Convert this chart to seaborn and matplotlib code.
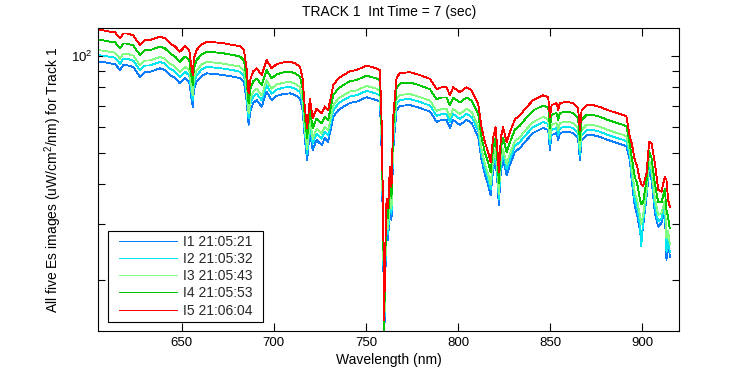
import matplotlib
matplotlib.use("Agg")
import matplotlib.pyplot as plt
import matplotlib.transforms as mtransforms
from matplotlib.patches import Rectangle
from matplotlib.ticker import LogLocator, NullFormatter, FixedLocator
import numpy as np
import pandas as pd
import seaborn as sns

wavelength = [
    605.0, 607.4, 611.0, 613.8, 616.5, 618.3, 620.1, 623.7, 627.3, 630.0,
    632.8, 635.5, 638.2, 640.9, 643.6, 646.3, 649.0, 651.8, 654.1, 655.4,
    656.0, 656.6, 658.1, 660.8, 663.5, 668.0, 672.5, 678.0, 681.6, 683.8,
    685.2, 686.3, 687.4, 688.8, 690.7, 693.4, 696.1, 698.8, 701.5, 705.1,
    708.7, 711.5, 714.2, 715.6, 716.9, 718.1, 719.6, 721.1, 723.2, 726.0,
    727.7, 729.5, 732.3, 735.0, 737.7, 741.3, 745.0, 750.4, 755.8, 757.6,
    758.5, 759.4, 759.9, 760.5, 761.2, 762.1, 763.0, 763.9, 764.8, 765.7,
    766.7, 768.5, 773.9, 779.3, 784.8, 788.4, 791.1, 793.8, 795.6, 797.4,
    801.0, 804.7, 807.4, 811.0, 812.8, 814.6, 816.4, 817.7, 819.1, 820.4,
    821.3, 822.2, 823.3, 824.5, 826.4, 828.2, 830.9, 833.6, 837.2, 840.8,
    846.2, 849.0, 849.9, 850.8, 853.5, 854.4, 855.3, 858.9, 862.5, 865.2,
    866.2, 867.1, 869.8, 873.4, 877.0, 881.5, 886.1, 889.7, 891.5, 893.3,
    894.3, 896.0, 897.3, 898.7, 899.5, 900.5, 902.4, 903.8, 905.1, 906.9,
    908.7, 910.5, 912.3, 913.2, 914.1, 915.0]

i1 = [
    96.0, 95.8, 94.9, 94.4, 90.4, 93.7, 93.7, 92.4, 86.2, 89.2,
    89.3, 90.4, 91.6, 90.4, 87.3, 85.4, 82.2, 85.4, 83.0, 72.9,
    69.5, 78.4, 83.2, 86.6, 88.3, 87.9, 87.3, 86.2, 85.4, 83.0,
    72.9, 61.0, 67.9, 71.4, 72.9, 69.5, 77.4, 72.9, 75.1, 76.1,
    76.5, 75.6, 73.8, 67.9, 54.7, 47.4, 58.8, 50.9, 54.7, 52.8,
    55.5, 54.0, 64.7, 67.9, 69.5, 71.4, 72.1, 74.4, 72.9, 71.9,
    50.9, 24.9, 12.0, 20.0, 28.7, 26.7, 35.6, 30.8, 50.9, 58.8,
    67.9, 69.9, 70.4, 68.9, 67.1, 62.4, 63.2, 63.2, 59.7, 63.2,
    61.0, 63.2, 61.8, 56.0, 47.4, 42.6, 39.6, 36.9, 44.1, 47.4,
    41.1, 34.3, 44.1, 47.4, 42.6, 45.8, 50.2, 51.7, 54.7, 57.6,
    59.7, 58.8, 50.9, 56.7, 57.6, 54.7, 57.6, 58.1, 57.6, 55.5,
    47.4, 54.7, 56.7, 56.7, 56.0, 54.7, 53.6, 52.8, 52.2, 47.4,
    41.1, 33.9, 32.0, 28.7, 26.7, 29.4, 36.5, 44.1, 41.1, 32.4,
    29.4, 30.2, 33.1, 23.1, 26.7, 23.7]

i2 = [
    100.5, 100.3, 99.4, 98.8, 94.6, 98.1, 98.1, 96.7, 90.3, 93.4,
    93.5, 94.6, 95.9, 94.6, 91.4, 89.4, 86.1, 89.4, 86.9, 76.3,
    72.8, 82.1, 87.1, 90.7, 92.5, 92.0, 91.4, 90.3, 89.4, 86.9,
    76.3, 63.9, 71.1, 74.8, 76.3, 72.8, 81.0, 76.3, 78.6, 79.7,
    80.1, 79.2, 77.3, 71.1, 57.3, 49.6, 61.6, 53.3, 57.3, 55.3,
    58.1, 56.5, 67.7, 71.1, 72.8, 74.8, 75.5, 77.9, 76.3, 75.3,
    53.3, 26.1, 12.5, 20.9, 30.0, 27.9, 37.2, 32.2, 53.1, 61.4,
    70.9, 73.0, 73.5, 71.9, 70.1, 65.1, 66.0, 66.0, 62.3, 66.0,
    63.7, 66.0, 64.5, 58.5, 49.5, 44.5, 41.3, 38.5, 46.0, 49.5,
    42.9, 35.8, 46.0, 49.5, 44.5, 47.8, 52.4, 54.0, 57.1, 60.1,
    62.3, 61.4, 53.1, 58.8, 59.7, 56.7, 59.7, 60.2, 59.7, 57.6,
    49.2, 56.7, 58.8, 58.8, 58.1, 56.7, 55.6, 54.8, 54.1, 49.2,
    43.0, 35.5, 33.5, 30.0, 25.5, 30.5, 37.5, 45.8, 42.8, 34.0,
    30.5, 31.2, 34.2, 24.5, 27.5, 24.5]

i3 = [
    104.2, 103.9, 103.0, 102.4, 98.1, 101.7, 101.7, 100.3, 93.5, 96.8,
    96.9, 98.1, 99.4, 98.1, 94.7, 92.7, 89.2, 92.7, 90.1, 79.1,
    75.4, 85.1, 90.3, 94.0, 95.8, 95.4, 94.7, 93.5, 92.7, 90.1,
    79.1, 66.2, 73.7, 77.5, 79.1, 75.4, 84.0, 79.1, 81.5, 82.6,
    83.0, 82.0, 80.1, 73.7, 59.3, 51.4, 63.8, 55.2, 59.3, 57.3,
    60.2, 58.6, 70.2, 73.7, 75.4, 77.5, 78.2, 80.7, 79.1, 78.0,
    55.2, 27.0, 13.0, 21.7, 31.1, 28.9, 38.5, 33.3, 55.1, 63.6,
    73.5, 75.6, 76.2, 74.5, 72.6, 67.5, 68.4, 68.4, 64.6, 68.4,
    66.0, 68.4, 66.9, 60.6, 51.3, 46.1, 42.8, 39.9, 47.7, 51.3,
    44.5, 37.1, 47.7, 51.3, 46.1, 49.6, 54.3, 55.9, 59.2, 62.3,
    64.6, 63.6, 55.1, 61.0, 61.9, 58.8, 61.9, 62.5, 61.9, 59.7,
    51.0, 58.8, 61.0, 61.0, 60.2, 58.8, 57.6, 56.8, 56.1, 51.0,
    45.0, 37.5, 35.5, 32.0, 30.0, 32.0, 38.5, 47.5, 44.5, 36.0,
    32.0, 32.5, 35.5, 27.0, 28.5, 26.0]

i4 = [
    112.1, 111.9, 110.8, 110.3, 105.6, 109.4, 109.4, 107.9, 100.7, 104.2,
    104.3, 105.6, 107.0, 105.6, 102.0, 99.7, 96.0, 99.7, 96.9, 85.1,
    81.2, 91.6, 97.2, 101.1, 103.1, 102.7, 102.0, 100.7, 99.7, 96.9,
    85.1, 71.2, 79.3, 83.4, 85.1, 81.2, 90.4, 85.1, 87.7, 88.9,
    89.4, 88.3, 86.2, 79.3, 63.9, 55.4, 68.7, 59.5, 63.9, 61.7,
    64.8, 63.1, 75.6, 79.3, 81.2, 83.4, 84.2, 86.9, 85.1, 84.0,
    59.5, 29.1, 14.0, 23.4, 33.5, 31.2, 41.8, 36.2, 59.8, 69.1,
    79.8, 82.1, 82.7, 81.0, 78.8, 73.3, 74.3, 74.3, 70.1, 74.3,
    71.7, 74.3, 72.6, 65.8, 55.7, 50.1, 46.5, 43.4, 51.8, 55.7,
    48.3, 40.3, 51.8, 55.7, 50.1, 53.8, 59.0, 60.7, 64.3, 67.7,
    70.1, 69.1, 59.8, 65.5, 66.5, 63.2, 66.5, 67.1, 66.5, 64.1,
    54.7, 63.2, 65.5, 65.5, 64.7, 63.2, 61.9, 61.0, 60.3, 53.0,
    48.5, 42.0, 40.0, 36.0, 34.5, 35.0, 41.0, 50.5, 48.0, 40.0,
    35.0, 35.0, 38.5, 33.0, 31.5, 29.0]

i5 = [
    120.5, 120.2, 119.1, 118.5, 113.5, 117.6, 117.6, 116.0, 108.2, 111.9,
    112.1, 113.5, 115.0, 113.5, 109.6, 107.2, 103.2, 107.2, 104.2, 91.5,
    87.2, 98.4, 104.4, 108.7, 110.8, 110.3, 109.6, 108.2, 107.2, 104.2,
    91.5, 76.6, 85.2, 89.6, 91.5, 87.2, 97.1, 91.5, 94.3, 95.5,
    96.0, 94.9, 92.6, 85.2, 68.6, 59.5, 73.8, 63.9, 68.6, 66.3,
    69.7, 67.8, 81.2, 85.2, 87.2, 89.6, 90.5, 93.4, 91.5, 90.2,
    63.9, 31.2, 15.0, 25.1, 36.0, 33.5, 45.0, 39.0, 64.4, 74.4,
    85.9, 88.4, 89.1, 87.2, 84.9, 78.9, 79.9, 79.9, 75.5, 79.9,
    77.2, 79.9, 78.2, 70.8, 60.0, 53.9, 50.1, 46.7, 55.8, 60.0,
    52.0, 43.4, 55.8, 60.0, 53.9, 57.9, 63.5, 65.4, 69.2, 72.9,
    75.5, 74.4, 64.4, 70.3, 71.4, 67.8, 71.4, 72.0, 71.4, 68.8,
    58.8, 67.8, 70.3, 70.3, 69.4, 67.8, 66.5, 65.5, 64.7, 56.0,
    53.6, 47.4, 45.2, 41.1, 40.0, 39.2, 43.2, 54.1, 53.6, 46.4,
    38.3, 37.8, 42.1, 41.1, 35.6, 33.9]

labels = ["I1 21:05:21", "I2 21:05:32", "I3 21:05:43", "I4 21:05:53", "I5 21:06:04"]
colors = ["#0a7cff", "#00e6f0", "#80ff80", "#00c800", "#ff0000"]
x_ticks = [650, 700, 750, 800, 850, 900]

series = [i1, i2, i3, i4, i5]
df = pd.concat(
    [pd.DataFrame({"wl": wavelength, "es": s, "series": lab}) for s, lab in zip(series, labels)],
    ignore_index=True)

sns.set_theme(style="white")
plt.rcParams["font.family"] = ["Liberation Sans", "DejaVu Sans"]
plt.rcParams["mathtext.default"] = "regular"

W, H = 750, 375
fig = plt.figure(figsize=(7.5, 3.75), dpi=100, facecolor="white")
L, R, T, B = 98.3, 679.0, 28.3, 331.0
ax = fig.add_axes([L / W, 1 - B / H, (R - L) / W, (B - T) / H])
ax.set_facecolor("white")

sns.lineplot(data=df, x="wl", y="es", hue="series", hue_order=labels,
             palette=colors, estimator=None, sort=False, linewidth=0.6,
             legend=False, ax=ax)
for ln in ax.get_lines():
    ln.set_antialiased(False)

ax.set_yscale("log")
ax.set_xlim(604.7, 920.0)
ax.set_ylim(13.91, 122.0)
ax.xaxis.set_major_locator(FixedLocator(x_ticks))
ax.yaxis.set_major_locator(LogLocator(base=10))
ax.yaxis.set_minor_locator(LogLocator(base=10, subs=np.arange(2, 10)))
ax.yaxis.set_minor_formatter(NullFormatter())

for sp in ax.spines.values():
    sp.set_color("black")
    sp.set_linewidth(0.8)
    sp.set_visible(True)
ax.tick_params(which="major", direction="in", top=True, right=True, bottom=True, left=True,
               length=6, width=0.8, color="black", labelsize=9.5, labelcolor="black", pad=4)
ax.tick_params(which="minor", direction="in", left=True, right=True, length=5, width=0.8, color="black")
ax.tick_params(axis="x", which="minor", bottom=False, top=False)

ax.set_xlabel("Wavelength (nm)", fontsize=10, color="black", labelpad=3)
ax.set_ylabel("All five Es images (uW/cm$^2$/nm) for Track 1", fontsize=10, color="black", labelpad=5)
ax.set_title("TRACK 1  Int Time = 7 (sec)", fontsize=10, color="black", pad=9)
ax.grid(False)

fs = 10
leg = ax.legend(ax.get_lines()[:5], labels, loc="lower left",
                bbox_to_anchor=((114.8 - L) / (R - L), (B - 321.7) / (B - T)),
                borderaxespad=0, frameon=False, fontsize=fs, handlelength=4.17,
                handletextpad=0.43, labelspacing=0.23, borderpad=0.3)
for h in leg.legend_handles:
    h.set_linewidth(0.7)
    h.set_antialiased(False)

fig.canvas.draw()
bb = leg.get_window_extent()
dx = 6.5
rect = Rectangle((bb.x0 - dx, bb.y0), bb.width + 2 * dx, bb.height,
                 transform=mtransforms.IdentityTransform(), facecolor="white",
                 edgecolor="black", linewidth=0.8, zorder=4)
fig.add_artist(rect)
leg.set_zorder(5)
leg.remove()
fig.add_artist(leg)

fig.savefig("out.png", dpi=100, facecolor="white")
